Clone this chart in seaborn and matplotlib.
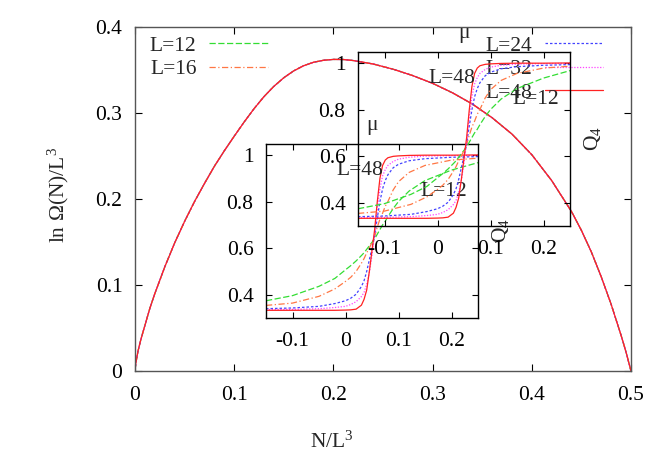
import numpy as np
import pandas as pd
import matplotlib
matplotlib.use('Agg')
import matplotlib.pyplot as plt
from matplotlib.lines import Line2D
import seaborn as sns

# ---------------- data ----------------
density = [0.0, 0.0005, 0.001, 0.003, 0.006, 0.01, 0.015, 0.02, 0.03, 0.04,
           0.05, 0.06, 0.07, 0.08, 0.09, 0.1, 0.11, 0.12, 0.13, 0.14,
           0.15, 0.16, 0.17, 0.18, 0.19, 0.2, 0.21, 0.22, 0.24, 0.26,
           0.28, 0.30, 0.32, 0.34, 0.36, 0.38, 0.40, 0.42, 0.44, 0.45,
           0.46, 0.47, 0.48, 0.49, 0.495, 0.5]
entropy = [0.0, 0.0058, 0.010, 0.023, 0.037, 0.053, 0.073, 0.090, 0.121, 0.149,
           0.174, 0.197, 0.218, 0.238, 0.256, 0.273, 0.2895, 0.305, 0.319, 0.331,
           0.341, 0.349, 0.355, 0.359, 0.3613, 0.3623, 0.3622, 0.3610, 0.357, 0.351,
           0.3435, 0.3345, 0.3235, 0.3105, 0.2945, 0.2755, 0.2515, 0.2215, 0.1855, 0.1635,
           0.1385, 0.1095, 0.0775, 0.0415, 0.022, 0.0]

mu = [-0.15, -0.1, -0.05, -0.02, 0.0, 0.01, 0.02, 0.03, 0.035, 0.04, 0.045, 0.05,
      0.055, 0.06, 0.065, 0.07, 0.075, 0.08, 0.09, 0.1, 0.12, 0.15, 0.2, 0.25]
q4_L12 = [0.374, 0.396, 0.436, 0.470, 0.507, 0.525, 0.545, 0.568, 0.580, 0.595, 0.610, 0.625,
          0.640, 0.660, 0.680, 0.700, 0.715, 0.735, 0.770, 0.800, 0.845, 0.890, 0.935, 0.967]
q4_L16 = [0.354, 0.364, 0.393, 0.425, 0.457, 0.475, 0.500, 0.535, 0.555, 0.580, 0.600, 0.625,
          0.650, 0.690, 0.725, 0.750, 0.780, 0.800, 0.850, 0.885, 0.925, 0.955, 0.978, 0.986]
q4_L24 = [0.340, 0.343, 0.350, 0.362, 0.374, 0.385, 0.402, 0.435, 0.460, 0.500, 0.550, 0.600,
          0.655, 0.730, 0.800, 0.855, 0.890, 0.915, 0.945, 0.960, 0.975, 0.984, 0.990, 0.993]
q4_L32 = [0.336, 0.337, 0.340, 0.345, 0.350, 0.358, 0.370, 0.392, 0.410, 0.445, 0.495, 0.570,
          0.660, 0.770, 0.855, 0.910, 0.937, 0.955, 0.972, 0.982, 0.990, 0.995, 0.997, 0.998]
q4_L48 = [0.333, 0.333, 0.333, 0.333, 0.334, 0.335, 0.338, 0.355, 0.380, 0.420, 0.500, 0.590,
          0.680, 0.800, 0.900, 0.955, 0.978, 0.988, 0.994, 0.996, 0.998, 0.999, 0.999, 1.0]

sizes = ['L=12', 'L=16', 'L=24', 'L=32', 'L=48']
inset_series = [q4_L12, q4_L16, q4_L24, q4_L32, q4_L48]

main_xticks = [0, 0.1, 0.2, 0.3, 0.4, 0.5]
main_xticklabels = ['0', '0.1', '0.2', '0.3', '0.4', '0.5']
main_yticks = [0, 0.1, 0.2, 0.3, 0.4]
main_yticklabels = ['0', '0.1', '0.2', '0.3', '0.4']
inset_xticks = [-0.1, 0, 0.1, 0.2]
inset_xticklabels = ['-0.1', '0', '0.1', '0.2']
inset_yticks = [0.4, 0.6, 0.8, 1.0]
inset_yticklabels = ['0.4', '0.6', '0.8', '1']

# ---------------- styles ----------------
colors = ['#33dd33', '#ff7744', '#4444ff', '#ff44ff', '#ff2222']
styles = [(0, (5, 2)), (0, (5, 2, 1, 2)), (0, (2, 1.6)), (0, (1, 1.3)), '-']

sns.set_theme(style='ticks')
plt.rcParams['font.family'] = ['Liberation Serif', 'DejaVu Serif']
plt.rcParams['mathtext.fontset'] = 'custom'
plt.rcParams['mathtext.rm'] = 'Liberation Serif'
plt.rcParams['mathtext.it'] = 'Liberation Serif:italic'
plt.rcParams['axes.unicode_minus'] = False
FS = 15.5

fig = plt.figure(figsize=(6.64, 4.65), dpi=100)
fig.patch.set_facecolor('white')

W, H = 664.0, 465.0
def rect(l, t, r, b):
    return [l / W, 1 - b / H, (r - l) / W, (b - t) / H]

ax = fig.add_axes(rect(135, 27, 631, 371))
main_df = pd.DataFrame({'density': density, 'entropy': entropy})
for lab, c, ls in zip(sizes, colors, styles):
    sns.lineplot(data=main_df, x='density', y='entropy', ax=ax, color=c,
                 linestyle=ls, lw=0.9, estimator=None, sort=False, legend=False)
ax.set_xlim(0, 0.5)
ax.set_ylim(0, 0.4)
ax.set_xticks(main_xticks)
ax.set_xticklabels(main_xticklabels)
ax.set_yticks(main_yticks)
ax.set_yticklabels(main_yticklabels)
ax.tick_params(direction='in', top=True, right=True, length=5, width=0.8,
               labelsize=FS, colors='black')
ax.tick_params(axis='x', pad=11)
ax.tick_params(axis='y', pad=9)
for s in ax.spines.values():
    s.set_color('#555555')
    s.set_linewidth(1.0)
ax.set_xlabel('N/L$^\\mathrm{3}$', fontsize=FS)
ax.set_ylabel('ln Ω(N)/L$^\\mathrm{3}$', fontsize=FS)
ax.xaxis.set_label_coords(0.397, -0.176)
ax.yaxis.set_label_coords(-0.13, 0.512)
ax.set_facecolor('white')

# legends (gnuplot-like, text before sample)
handles = [Line2D([], [], color=c, linestyle=ls, lw=0.9) for c, ls in zip(colors, styles)]
leg1 = ax.legend(handles[:2], sizes[:2], loc='upper left', bbox_to_anchor=(0.03, 0.975),
                 frameon=False, markerfirst=False, fontsize=FS, handlelength=2.7,
                 handletextpad=0.6, labelspacing=0.16, borderpad=0, borderaxespad=0)
ax.add_artist(leg1)
ax.legend(handles[2:], sizes[2:], loc='upper right', bbox_to_anchor=(0.944, 0.975),
          frameon=False, markerfirst=False, fontsize=FS, handlelength=2.7,
          handletextpad=0.6, labelspacing=0.16, borderpad=0, borderaxespad=0)

inset_df = pd.DataFrame({'mu': mu, **{lab: ys for lab, ys in zip(sizes, inset_series)}})

def draw_inset(r):
    ai = fig.add_axes(r)
    ai.patch.set_alpha(0)
    for lab, c, ls in zip(sizes, colors, styles):
        sns.lineplot(data=inset_df, x='mu', y=lab, ax=ai, color=c, linestyle=ls,
                     lw=0.9, estimator=None, sort=False, legend=False)
    ai.set_xlim(-0.15, 0.25)
    ai.set_ylim(0.3, 1.047)
    ai.set_xticks(inset_xticks)
    ai.set_xticklabels(inset_xticklabels)
    ai.set_yticks(inset_yticks)
    ai.set_yticklabels(inset_yticklabels)
    ai.tick_params(direction='in', top=True, right=True, length=4.5, width=0.8,
                   labelsize=FS, colors='black')
    ai.tick_params(axis='x', pad=10)
    ai.tick_params(axis='y', pad=9)
    for s in ai.spines.values():
        s.set_color('black')
        s.set_linewidth(1.0)
    ai.set_xlabel('')
    ai.set_ylabel('')
    ai.text(0.5, 1.109, 'μ', transform=ai.transAxes, ha='center', va='center', fontsize=FS)
    ai.text(1.104, 0.5, 'Q$_\\mathrm{4}$', transform=ai.transAxes, ha='center', va='center',
            rotation=90, fontsize=FS)
    ai.text(0.028, 0.935, 'L=48', ha='center', va='center', fontsize=FS)
    ai.text(0.186, 0.845, 'L=12', ha='center', va='center', fontsize=FS)
    return ai

draw_inset(rect(266, 144, 478, 318))
draw_inset(rect(358, 52, 570, 226))

fig.savefig('out.png', dpi=100, facecolor='white')
